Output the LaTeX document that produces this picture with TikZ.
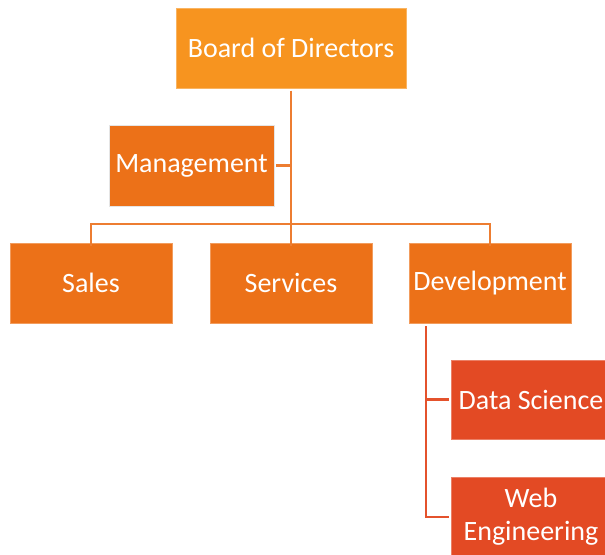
\documentclass[tikz,border=0pt]{standalone}
\usepackage{fontspec}
\setmainfont{Carlito}
\definecolor{boardc}{HTML}{F7941F}
\definecolor{midc}{HTML}{EC7118}
\definecolor{lowc}{HTML}{E34A24}
\definecolor{linetop}{HTML}{ED7D31}
\definecolor{linelow}{HTML}{E4522C}
\begin{document}
\begin{tikzpicture}[x=0.75pt,y=-0.75pt,
  box/.style={rectangle, draw=black!10, line width=0.75pt, text=white,
    font=\fontsize{21}{25}\selectfont, inner sep=0pt, align=center},
  conn/.style={line width=2pt, draw=linetop},
  connlow/.style={line width=2pt, draw=linelow}]
\useasboundingbox (0,0) rectangle (605,554);
\begin{scope}
\clip (0,0) rectangle (605,554);
\node[box, fill=boardc, draw=boardc!70!white, minimum width=230*0.75pt, minimum height=80*0.75pt] (board) at (291,48) {Board of Directors};
\node[box, fill=midc, minimum width=165*0.75pt, minimum height=81*0.75pt] (mgmt) at (191.5,165.5) {Management};
\node[box, fill=midc, draw=midc!70!white, minimum width=162*0.75pt, minimum height=80*0.75pt] (sales) at (91,283) {Sales};
\node[box, fill=midc, draw=midc!70!white, minimum width=162*0.75pt, minimum height=80*0.75pt] (services) at (291,283) {Services};
\node[box, fill=midc, draw=midc!70!white, minimum width=162*0.75pt, minimum height=80*0.75pt] (dev) at (490,283) {Development};
\node[box, fill=lowc, draw=lowc!70!white, minimum width=160*0.75pt, minimum height=79*0.75pt] (ds) at (531,399.5) {Data Science};
\node[box, fill=lowc, draw=lowc!70!white, minimum width=160*0.75pt, minimum height=80*0.75pt] (web) at (531,517) {Web\\Engineering};
\end{scope}
\coordinate (bar) at (291,224);
\coordinate (devline) at (426,326);
\draw[conn] ([yshift=-2*0.75pt]board.south) -- ([yshift=-3*0.75pt]services.north);
\draw[conn] ([xshift=1pt]mgmt.east) -- (mgmt.east -| bar);
\draw[conn] ([yshift=-3*0.75pt]sales.north) |- (bar) -| ([yshift=-3*0.75pt]dev.north);
\draw[connlow] (devline) |- ([xshift=-1pt]web.west);
\draw[connlow] ([xshift=-1pt]ds.west) -- (ds.west -| devline);
\end{tikzpicture}
\end{document}
